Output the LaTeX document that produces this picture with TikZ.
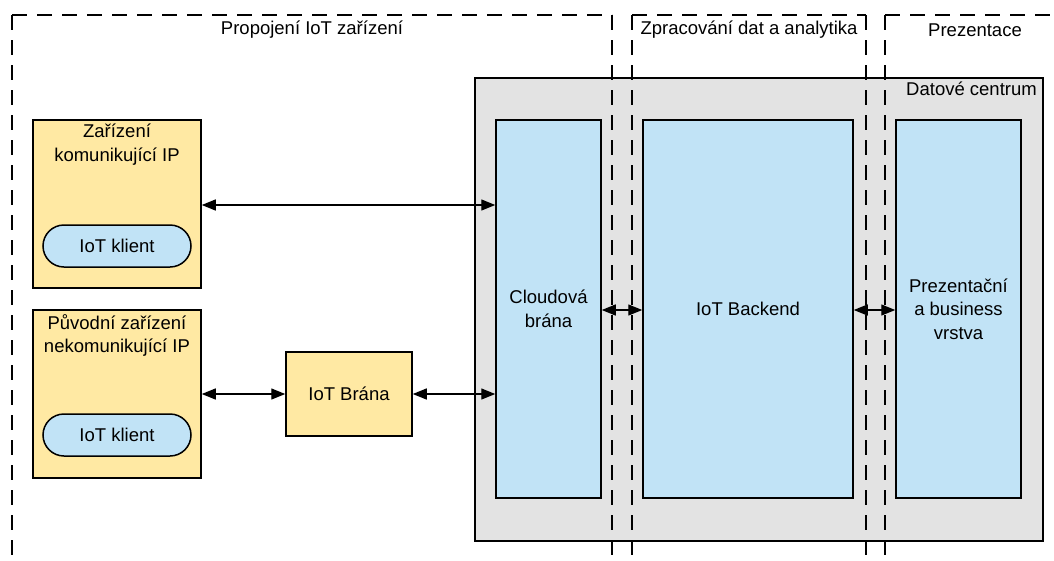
\documentclass[tikz,border=0pt]{standalone}
\usepackage{fontspec}
\setmainfont{Liberation Sans}
\usepackage{xcolor}
\usetikzlibrary{
	arrows.meta,
	positioning
}
\definecolor{BoxYellow}{RGB}{255,233,163}
\definecolor{BoxBlue}{RGB}{193,227,246}
\definecolor{CenterGray}{RGB}{227,227,227}

\tikzset{
	ybox/.style={draw, line width=1.5pt, fill=BoxYellow, inner sep=0pt},
	bbox/.style={draw, line width=1.5pt, fill=BoxBlue, inner sep=0pt, align=center},
	client/.style={draw, line width=1.5pt, fill=BoxBlue, rounded corners=21pt,
		minimum width=148pt, minimum height=42pt, inner sep=0pt},
	txt/.style={align=center, inner sep=0pt},
	zone/.style={line width=1.5pt, dash pattern=on 15pt off 10pt},
	link/.style={line width=1.3pt, {Triangle[length=14pt,width=11pt]}-{Triangle[length=14pt,width=11pt]}}
}

\begin{document}
\begin{tikzpicture}[x=1pt, y=-1pt, font=\fontsize{18.5}{23.5}\selectfont]
		\useasboundingbox (0,0) rectangle (1054,560);
		
		% datove centrum
		\node[draw, line width=1.5pt, fill=CenterGray, minimum width=568pt, minimum height=463pt, inner sep=0pt] (dc) at (759,309.5) {};
		\node[txt, anchor=north east] (dclabel) at (1037,82) {Datové centrum};
		
		% zarizeni vlevo
		\node[ybox, minimum width=168pt, minimum height=168pt] (dev1) at (117,204) {};
		\node[txt, anchor=north] (dev1t) at (117,124) {Zařízení\\komunikující IP};
		\node[client] (cl1) at (117,246) {IoT klient};
		
		\node[ybox, minimum width=168pt, minimum height=168pt] (dev2) at (117,394) {};
		\node[txt, anchor=north] (dev2t) at (117,314) {Původní zařízení\\nekomunikující IP};
		\node[client] (cl2) at (117,435) {IoT klient};
		
		\node[ybox, minimum width=126pt, minimum height=84pt] (gw) at (349,394) {IoT Brána};
		
		% bloky v datovem centru
		\node[bbox, minimum width=105pt, minimum height=378pt] (cloud) at (548.5,309) {Cloudová\\brána};
		\node[bbox, minimum width=210pt, minimum height=378pt] (backend) at (748,309) {IoT Backend};
		\node[bbox, minimum width=125pt, minimum height=378pt] (prez) at (958.5,309) {Prezentační\\a business\\vrstva};
		
		% zony (carkovane)
		\foreach \xa/\xb in {12/612, 632/866, 885/1070} {
			\draw[zone] (\xa,15) -- (\xb,15);
			\draw[zone] (\xa,15) -- (\xa,570);
		}
		\draw[zone] (612,15) -- (612,570);
		\draw[zone] (866,15) -- (866,570);
		\node[txt] (z1) at (312,30) {Propojení IoT zařízení};
		\node[txt] (z2) at (749,30) {Zpracování dat a analytika};
		\node[txt] (z3) at (975,30) {Prezentace};
		
		% spojeni
		\draw[link] (dev1.east |- 0,205) -- (cloud.west |- 0,205);
		\draw[link] (dev2.east |- gw.west) -- (gw.west);
		\draw[link] (gw.east) -- (cloud.west |- gw.east);
		\draw[link] (cloud.east |- 0,310) -- (backend.west |- 0,310);
		\draw[link] (backend.east |- 0,310) -- (prez.west |- 0,310);
		
	\end{tikzpicture}
\end{document}
